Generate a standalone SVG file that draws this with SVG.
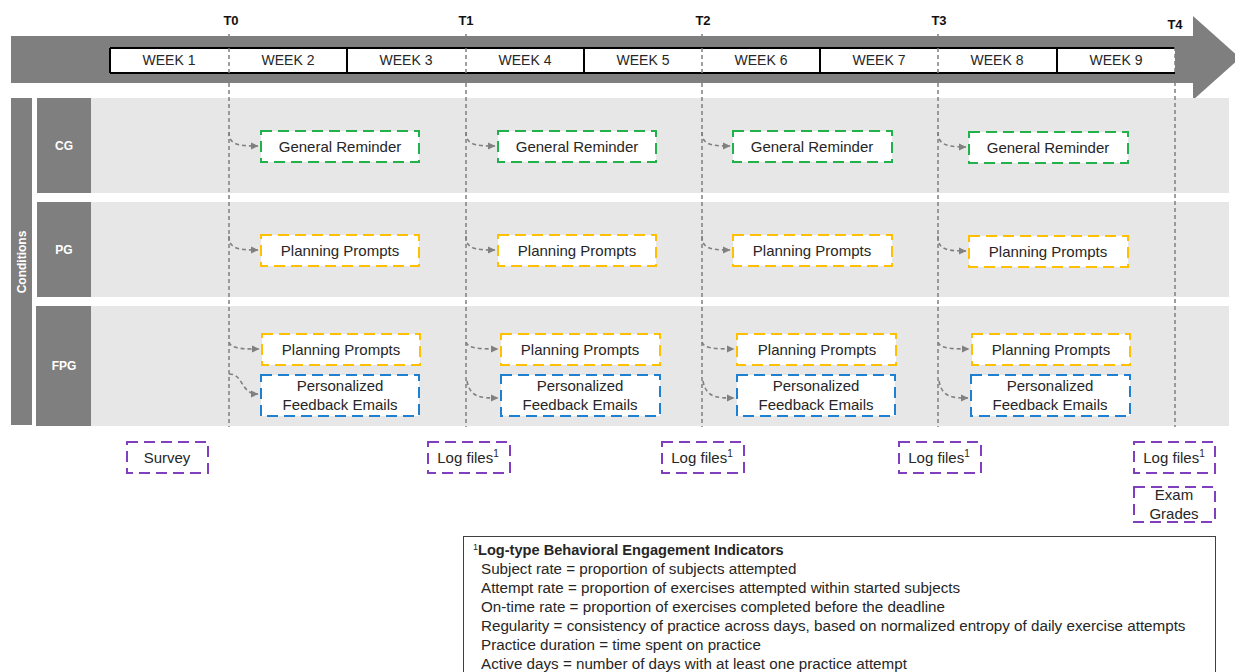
<svg xmlns="http://www.w3.org/2000/svg" width="1235" height="672" viewBox="0 0 1235 672">
<defs>
<style>
text{font-family:"Liberation Sans",Arial,sans-serif;fill:#262626}
.wk{font-size:14px;text-anchor:middle}
.tl{font-size:13px;font-weight:bold;text-anchor:middle;fill:#111}
.cl{font-size:12px;font-weight:bold;fill:#fff;text-anchor:middle}
.bx{font-size:15px;text-anchor:middle}
.box{fill:#fff;stroke-width:2;stroke-dasharray:11 6}
.g{stroke:#22b24c}.y{stroke:#ffc000}.b{stroke:#1f7fd0}.p{stroke:#7f3fbf}
.vl{stroke:#808080;stroke-width:1.5;stroke-dasharray:4 3;fill:none}
.cn{stroke:#808080;stroke-width:1.6;stroke-dasharray:4 3;fill:none;marker-end:url(#ah)}
.lg{font-size:15.2px}
.row{fill:#e7e7e7}
.lab{fill:#7f7f7f}
</style>
<marker id="ah" markerWidth="8" markerHeight="8" refX="7" refY="4" orient="auto" markerUnits="userSpaceOnUse">
<path d="M0,0.5 L7.5,4 L0,7.5 Z" fill="#808080"/>
</marker>
</defs>
<rect width="1235" height="672" fill="#fff"/>

<g id="timeline">
<path d="M11,36 H1193 V16 L1240,58 L1193,100 V83 H11 Z" fill="#7f7f7f"/>
<rect x="110" y="48" width="1065" height="25" fill="#fff"/>
<path d="M110,48 H1175 M110,73 H1175 M110,48 V73 M347,48 V73 M584,48 V73 M820,48 V73 M1057,48 V73" stroke="#000" stroke-width="2" fill="none"/>
<text class="wk" x="169" y="65">WEEK 1</text>
<text class="wk" x="288" y="65">WEEK 2</text>
<text class="wk" x="406" y="65">WEEK 3</text>
<text class="wk" x="525" y="65">WEEK 4</text>
<text class="wk" x="643" y="65">WEEK 5</text>
<text class="wk" x="761" y="65">WEEK 6</text>
<text class="wk" x="879" y="65">WEEK 7</text>
<text class="wk" x="997" y="65">WEEK 8</text>
<text class="wk" x="1116" y="65">WEEK 9</text>
<text class="tl" x="231" y="25">T0</text>
<text class="tl" x="466" y="25">T1</text>
<text class="tl" x="703" y="25">T2</text>
<text class="tl" x="939" y="25">T3</text>
<text class="tl" x="1175" y="29">T4</text>
</g>

<g id="conditions">
<rect class="lab" x="11" y="98" width="21" height="327"/>
<text class="cl" transform="translate(26,262) rotate(-90)">Conditions</text>
</g>
<g id="row-CG">
<rect class="row" x="91" y="98" width="1138" height="95"/>
<rect class="lab" x="37" y="98" width="54" height="95"/>
<text class="cl" x="64" y="150">CG</text>
</g>
<g id="row-PG">
<rect class="row" x="91" y="202" width="1138" height="95"/>
<rect class="lab" x="37" y="202" width="54" height="95"/>
<text class="cl" x="64" y="254">PG</text>
</g>
<g id="row-FPG">
<rect class="row" x="91" y="306" width="1138" height="120"/>
<rect class="lab" x="36" y="306" width="55" height="120"/>
<text class="cl" x="64" y="370">FPG</text>
</g>

<g id="timelines">
<path class="vl" d="M229,34 V427"/>
<path class="vl" d="M466,34 V427"/>
<path class="vl" d="M702,34 V427"/>
<path class="vl" d="M938,34 V427"/>
<path class="vl" d="M1175,47 V427"/>
</g>

<g id="connectors">
<path class="cn" d="M229,132 C229,144 236,146 258,146"/>
<path class="cn" d="M466,132 C466,144 473,146 495,146"/>
<path class="cn" d="M702,132 C702,144 709,146 730,146"/>
<path class="cn" d="M938,132 C938,144 945,147 966,147"/>
<path class="cn" d="M229,236 C229,248 236,250 258,250"/>
<path class="cn" d="M466,236 C466,248 473,250 495,250"/>
<path class="cn" d="M702,236 C702,248 709,250 730,250"/>
<path class="cn" d="M938,236 C938,249 945,251 966,251"/>
<path class="cn" d="M229,342 C231,348 238,349 259,349"/>
<path class="cn" d="M466,342 C468,348 476,349 498,349"/>
<path class="cn" d="M702,342 C704,348 712,349 734,349"/>
<path class="cn" d="M938,342 C940,348 948,349 969,349"/>
<path class="cn" d="M229,374 C244,374 240,394 258,394"/>
<path class="cn" d="M467,381 C470,398 482,398 498,398"/>
<path class="cn" d="M703,381 C706,398 718,398 734,398"/>
<path class="cn" d="M939,381 C942,398 954,398 968,398"/>
</g>

<g id="cg-1"><rect class="box g" x="261" y="131" width="158" height="31"/><text class="bx" x="340" y="152">General Reminder</text></g>
<g id="cg-2"><rect class="box g" x="498" y="131" width="158" height="31"/><text class="bx" x="577" y="152">General Reminder</text></g>
<g id="cg-3"><rect class="box g" x="733" y="131" width="159" height="31"/><text class="bx" x="812" y="152">General Reminder</text></g>
<g id="cg-4"><rect class="box g" x="969" y="132" width="159" height="31"/><text class="bx" x="1048" y="153">General Reminder</text></g>

<g id="pg-1"><rect class="box y" x="261" y="235" width="158" height="31"/><text class="bx" x="340" y="256">Planning Prompts</text></g>
<g id="pg-2"><rect class="box y" x="498" y="235" width="158" height="31"/><text class="bx" x="577" y="256">Planning Prompts</text></g>
<g id="pg-3"><rect class="box y" x="733" y="235" width="159" height="31"/><text class="bx" x="812" y="256">Planning Prompts</text></g>
<g id="pg-4"><rect class="box y" x="969" y="236" width="159" height="31"/><text class="bx" x="1048" y="257">Planning Prompts</text></g>

<g id="fpg-pp-1"><rect class="box y" x="262" y="334" width="158" height="31"/><text class="bx" x="341" y="355">Planning Prompts</text></g>
<g id="fpg-pp-2"><rect class="box y" x="501" y="334" width="159" height="31"/><text class="bx" x="580" y="355">Planning Prompts</text></g>
<g id="fpg-pp-3"><rect class="box y" x="737" y="334" width="159" height="31"/><text class="bx" x="817" y="355">Planning Prompts</text></g>
<g id="fpg-pp-4"><rect class="box y" x="972" y="334" width="158" height="31"/><text class="bx" x="1051" y="355">Planning Prompts</text></g>

<g id="fpg-fe-1"><rect class="box b" x="261" y="375" width="158" height="41"/><text class="bx" x="340" y="391">Personalized</text><text class="bx" x="340" y="410">Feedback Emails</text></g>
<g id="fpg-fe-2"><rect class="box b" x="501" y="375" width="159" height="41"/><text class="bx" x="580" y="391">Personalized</text><text class="bx" x="580" y="410">Feedback Emails</text></g>
<g id="fpg-fe-3"><rect class="box b" x="737" y="375" width="158" height="41"/><text class="bx" x="816" y="391">Personalized</text><text class="bx" x="816" y="410">Feedback Emails</text></g>
<g id="fpg-fe-4"><rect class="box b" x="971" y="375" width="159" height="41"/><text class="bx" x="1050" y="391">Personalized</text><text class="bx" x="1050" y="410">Feedback Emails</text></g>

<g id="survey"><rect class="box p" x="127" y="442" width="81" height="31"/><text class="bx" x="167" y="463">Survey</text></g>
<g id="log-1"><rect class="box p" x="428" y="442" width="82" height="31"/><text class="bx" x="468" y="463">Log files<tspan font-size="10" dy="-6">1</tspan></text></g>
<g id="log-2"><rect class="box p" x="662" y="442" width="82" height="31"/><text class="bx" x="702" y="463">Log files<tspan font-size="10" dy="-6">1</tspan></text></g>
<g id="log-3"><rect class="box p" x="899" y="442" width="82" height="31"/><text class="bx" x="939" y="463">Log files<tspan font-size="10" dy="-6">1</tspan></text></g>
<g id="log-4"><rect class="box p" x="1134" y="442" width="81" height="31"/><text class="bx" x="1174" y="463">Log files<tspan font-size="10" dy="-6">1</tspan></text></g>
<g id="exam"><rect class="box p" x="1134" y="487" width="81" height="35"/><text class="bx" x="1174" y="500">Exam</text><text class="bx" x="1174" y="519">Grades</text></g>

<g id="legend">
<rect x="463.5" y="536.5" width="752" height="150" fill="#fff" stroke="#404040" stroke-width="1"/>
<text class="lg" x="473" y="555"><tspan font-size="9" dy="-5">1</tspan><tspan font-weight="bold" font-size="14.6" dy="5">Log-type Behavioral Engagement Indicators</tspan></text>
<text class="lg" x="481" y="574">Subject rate = proportion of subjects attempted</text>
<text class="lg" x="481" y="593">Attempt rate = proportion of exercises attempted within started subjects</text>
<text class="lg" x="481" y="612">On-time rate = proportion of exercises completed before the deadline</text>
<text class="lg" x="481" y="631">Regularity = consistency of practice across days, based on normalized entropy of daily exercise attempts</text>
<text class="lg" x="481" y="650">Practice duration = time spent on practice</text>
<text class="lg" x="481" y="669">Active days = number of days with at least one practice attempt</text>
</g>
</svg>
